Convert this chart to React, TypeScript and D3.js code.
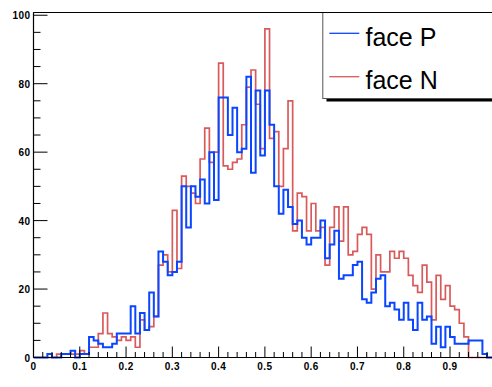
import React from "react";
import * as d3 from "d3";

// Histogram: 100 bins from 0 to 1
const binCount = 100;
const xRange = [0, 1];
const yMax = 100.8;

const facePValues = [
  0, 0, 0, 1, 0, 0, 1, 1, 2, 0,
  1, 1, 6, 5, 4, 3, 3, 4, 7, 7,
  7, 15, 7, 13, 8, 19, 12, 31, 28, 24,
  25, 28, 50, 38, 50, 47, 52, 45, 60, 46,
  76, 76, 65, 73, 60, 61, 82, 54, 78, 59,
  78, 68, 50, 42, 49, 44, 39, 40, 35, 33,
  35, 35, 40, 29, 33, 37, 23, 24, 24, 27,
  28, 17, 16, 19, 23, 24, 15, 16, 14, 11,
  16, 11, 8, 16, 11, 12, 4, 9, 3, 9,
  6, 4, 4, 4, 5, 5, 5, 1, 0, 0,
];

const faceNValues = [
  0, 0, 0, 0, 0, 1, 1, 1, 1, 1,
  2, 1, 3, 3, 7, 13, 7, 6, 5, 6,
  5, 6, 3, 11, 8, 9, 12, 27, 30, 25,
  43, 26, 53, 50, 48, 45, 58, 67, 57, 60,
  86, 56, 55, 57, 58, 68, 79, 84, 74, 61,
  96, 64, 66, 50, 61, 75, 37, 48, 47, 37,
  45, 37, 38, 27, 38, 44, 34, 44, 30, 31,
  36, 38, 36, 20, 30, 25, 25, 31, 29, 31,
  29, 24, 21, 19, 27, 22, 11, 24, 17, 21,
  15, 14, 10, 6, 0, 0, 0, 0, 0, 0,
];

// labels visible in the picture (the 1.0 label falls outside the canvas)
const xTickValues = [0, 0.1, 0.2, 0.3, 0.4, 0.5, 0.6, 0.7, 0.8, 0.9];
const xTickLabels = ["0", "0.1", "0.2", "0.3", "0.4", "0.5", "0.6", "0.7", "0.8", "0.9"];
const yTickValues = [0, 20, 40, 60, 80, 100];
const yTickLabels = ["0", "20", "40", "60", "80", "100"];

const seriesNames = ["face P", "face N"];
const seriesColors = ["#0a46ff", "#d95a5a"];

const W = 492;
const H = 387;
const left = 33.5;
const right = 496.3;
const top = 12.5;
const bottom = 357.5;

export default function App() {
  const x = d3.scaleLinear().domain(xRange).range([left, right]);
  const y = d3.scaleLinear().domain([0, yMax]).range([bottom, top]);
  const binW = (xRange[1] - xRange[0]) / binCount;

  const histPath = (vals: number[]) => {
    const pts: [number, number][] = [[xRange[0], 0]];
    vals.forEach((v, i) => pts.push([xRange[0] + i * binW, v]));
    pts.push([xRange[1], vals[vals.length - 1]]);
    pts.push([xRange[1], 0]);
    const line = d3
      .line<[number, number]>()
      .x((d) => x(d[0]))
      .y((d) => y(d[1]))
      .curve(d3.curveStepAfter);
    return line(pts) || "";
  };

  const xMinor = d3.range(0, 51).map((i) => i / 50);
  const yMinor = d3.range(0, 21).map((i) => i * 5);

  const xTickMajorLen = 11;
  const xTickMinorLen = 5.5;
  const yTickMajorLen = 14;
  const yTickMinorLen = 7;

  const labelStyle: React.CSSProperties = {
    fontFamily: "Liberation Sans, Arial, Helvetica, sans-serif",
    fontWeight: "bold",
    fontSize: 10,
    letterSpacing: 0.4,
  };

  return (
    <svg
      width={W}
      height={H}
      viewBox={`0 0 ${W} ${H}`}
      style={{ position: "absolute", left: 0, top: 0, background: "#fff" }}
    >
      <rect x={0} y={0} width={W} height={H} fill="#fff" />
      <defs>
        <clipPath id="frameClip">
          <rect x={left} y={top - 2} width={W - left} height={bottom - top + 4} />
        </clipPath>
      </defs>

      <g clipPath="url(#frameClip)" fill="none" strokeLinejoin="miter">
        <path d={histPath(faceNValues)} stroke={seriesColors[1]} strokeWidth={1.7} />
        <path d={histPath(facePValues)} stroke={seriesColors[0]} strokeWidth={2} />
      </g>

      {/* frame */}
      <line x1={left} x2={W} y1={top} y2={top} stroke="#000" strokeWidth={1.2} />
      <line x1={left} x2={left} y1={top} y2={bottom} stroke="#000" strokeWidth={1.2} />
      <line x1={left} x2={W} y1={bottom} y2={bottom} stroke="#000" strokeWidth={1.2} />

      {/* x ticks */}
      {xMinor.map((v, i) => (
        <line
          key={"xm" + i}
          x1={x(v)}
          x2={x(v)}
          y1={bottom}
          y2={bottom - (i % 5 === 0 ? xTickMajorLen : xTickMinorLen)}
          stroke="#000"
          strokeWidth={1}
        />
      ))}
      {xTickValues.map((v, i) => (
        <text key={"xl" + i} x={x(v)} y={370} textAnchor="middle" style={labelStyle}>
          {xTickLabels[i]}
        </text>
      ))}

      {/* y ticks */}
      {yMinor.map((v, i) => (
        <line
          key={"ym" + i}
          x1={left}
          x2={left + (i % 4 === 0 ? yTickMajorLen : yTickMinorLen)}
          y1={y(v)}
          y2={y(v)}
          stroke="#000"
          strokeWidth={1}
        />
      ))}
      {yTickValues.map((v, i) => (
        <text key={"yl" + i} x={30.5} y={y(v) + 4} textAnchor="end" style={labelStyle}>
          {yTickLabels[i]}
        </text>
      ))}

      {/* legend */}
      <rect x={326.5} y={16} width={200} height={85.5} fill="#000" />
      <rect x={322.8} y={12.5} width={200} height={86} fill="#fff" stroke="#555" strokeWidth={1} />
      <line x1={left} x2={W} y1={top} y2={top} stroke="#000" strokeWidth={1.2} />
      {seriesNames.map((name, i) => {
        const ly = i === 0 ? 33.3 : 76.7;
        const ty = i === 0 ? 45.7 : 89;
        return (
          <g key={name}>
            <line x1={329.3} x2={359.3} y1={ly} y2={ly} stroke={seriesColors[i]} strokeWidth={1.3} />
            <text
              x={365.5}
              y={ty}
              style={{
                fontFamily: "Liberation Sans, Arial, Helvetica, sans-serif",
                fontSize: 25,
              }}
              fill="#000"
            >
              {name}
            </text>
          </g>
        );
      })}
    </svg>
  );
}
